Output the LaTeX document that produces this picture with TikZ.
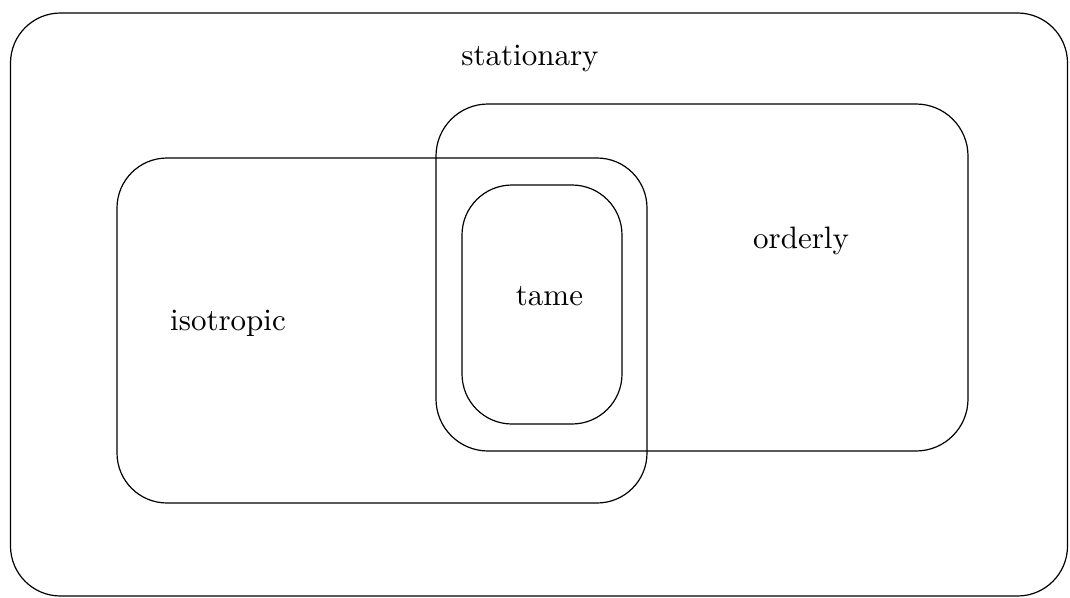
\documentclass[tikz,border=0pt]{standalone}
\begin{document}
\begin{tikzpicture}[x=1pt,y=-1pt,
  setbox/.style={draw=black,line width=1.2pt,rounded corners=50pt,inner sep=0pt},
  lbl/.style={inner sep=0pt,anchor=base}]
\newcommand{\biglbl}[1]{\scalebox{3.1}{\fontsize{10}{12}\selectfont #1}}
\useasboundingbox (0,0) rectangle (1070,597);
\node[setbox,minimum width=1057pt,minimum height=583pt] (stat) at (539,304.5) {};
\node[setbox,minimum width=530pt,minimum height=345pt] (iso) at (382,330.5) {};
\node[setbox,minimum width=532pt,minimum height=347pt,rounded corners=52pt] (ord) at (702,277.5) {};
\node[setbox,minimum width=160pt,minimum height=239pt] (tame) at (542,304.5) {};
\node[lbl] (tstat) at (530,65) {\biglbl{stationary}};
\node[lbl] (tord) at (801,248) {\biglbl{orderly}};
\node[lbl] (ttame) at (549.5,305) {\biglbl{tame}};
\node[lbl] (tiso) at (228,330) {\biglbl{isotropic}};
\end{tikzpicture}
\end{document}
